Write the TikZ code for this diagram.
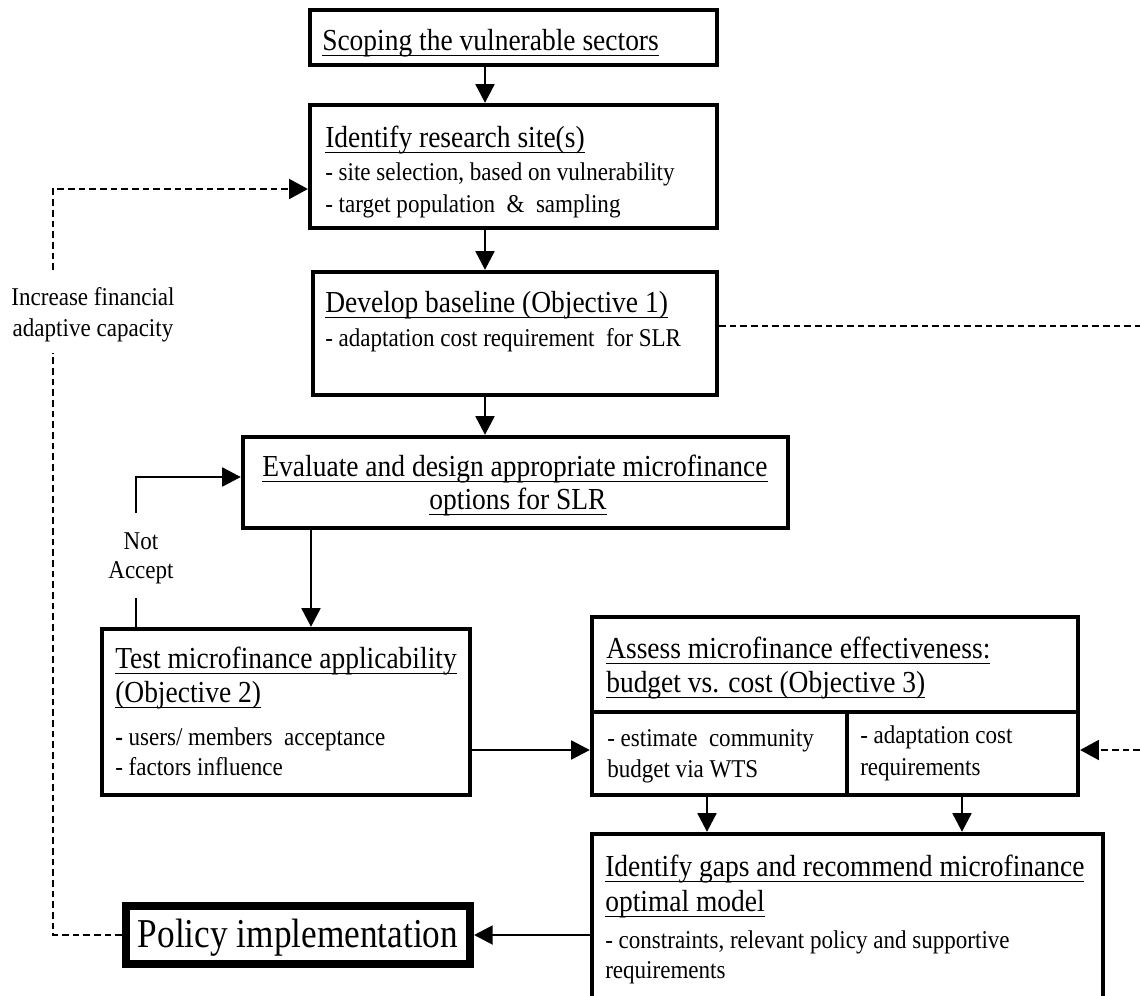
\documentclass[tikz,border=0pt]{standalone}
\usepackage{fontspec}
\setmainfont{Liberation Serif}[FakeStretch=0.9]
\newfontfamily\bigserif{Liberation Serif}[FakeStretch=0.86]
\usetikzlibrary{arrows.meta,fit}
% underline at a fixed distance below the baseline
\newcommand{\undl}[1]{\setbox0\hbox{#1}\rlap{\rule[-0.21em]{\wd0}{1.1pt}}\box0}

\begin{document}
\begin{tikzpicture}[x=0.75pt,y=-0.75pt,
  box/.style={draw, line width=3.2pt, inner sep=0pt},
  bigbox/.style={draw, line width=6pt, inner sep=0pt},
  hd/.style={font=\fontsize{22.9pt}{27pt}\selectfont, inner sep=0pt},
  sm/.style={font=\fontsize{19.2pt}{23pt}\selectfont, inner sep=0pt},
  ln/.style={line width=2.2pt},
  arr/.style={line width=2.2pt, -{Triangle[length=14pt,width=14pt]}},
  dsh/.style={line width=1.1pt, dash pattern=on 5pt off 3pt},
  dasharr/.style={dsh, -{Triangle[length=14pt,width=15pt]}}]

\useasboundingbox (0,0) rectangle (1140,996);
\clip (0,0) rectangle (1140,996);

% ---- boxes ----
\node[box, fit={(310,10) (717,65)}] (scope) {};
\node[box, fit={(310,105) (717,228)}] (ident) {};
\node[box, fit={(313,272) (717,395)}] (devel) {};
\node[box, fit={(243,437) (788,528)}] (eval) {};
\node[box, fit={(102,629) (470,795)}] (test) {};
\node[box, fit={(592,617) (1078,712)}] (assess) {};
\node[box, fit={(592,712) (847,795)}] (lowL) {};
\node[box, fit={(847,712) (1078,795)}] (lowR) {};
\node[box, fit={(592,834) (1103,1015)}] (gaps) {};
\node[bigbox, fit={(126,906) (470,964)}] (policy) {};

% ---- texts ----
\node[hd, anchor=base west] (tScope) at (322,50) {\undl{Scoping the vulnerable sectors}};

\node[hd, anchor=base west] (tIdent) at (325,147) {\undl{Identify research site(s)}};
\node[sm, anchor=base west] (tIdent1) at (325,180) {- site selection, based on vulnerability};
\node[sm, anchor=base west] (tIdent2) at (325,212) {- target population \ \& \ sampling};

\node[hd, anchor=base west] (tDevel) at (325,312) {\undl{Develop baseline (Objective 1)}};
\node[sm, anchor=base west] (tDevel1) at (325,346) {- adaptation cost requirement \ for SLR};

\node[hd, anchor=base] (tEval) at (515,476) {\undl{Evaluate and design appropriate microfinance}};
\node[hd, anchor=base] (tEval2) at (518,509) {\undl{options for SLR}};

\node[hd, anchor=base west] (tTest) at (115,668) {\undl{Test microfinance applicability}};
\node[hd, anchor=base west] (tTest2) at (115,702) {\undl{(Objective 2)}};
\node[sm, anchor=base west] (tTest3) at (115,745) {\textbf{-} users/ members \ acceptance};
\node[sm, anchor=base west] (tTest4) at (115,775) {- factors influence};

\node[hd, anchor=base west] (tAss) at (606,658) {\undl{Assess microfinance effectiveness:}};
\node[hd, anchor=base west] (tAss2) at (606,692) {\undl{budget vs. cost (Objective 3)}};
\node[sm, anchor=base west] (tLowL) at (607,746) {- estimate \ community};
\node[sm, anchor=base west] (tLowL2) at (607,777) {budget via WTS};
\node[sm, anchor=base west] (tLowR) at (860,743) {- adaptation cost};
\node[sm, anchor=base west] (tLowR2) at (860,775) {requirements};

\node[hd, anchor=base west] (tGaps) at (605,876) {\undl{Identify gaps and recommend microfinance}};
\node[hd, anchor=base west] (tGaps2) at (605,911) {\undl{optimal model}};
\node[sm, anchor=base west] (tGaps3) at (605,948) {- constraints, relevant policy and supportive};
\node[sm, anchor=base west] (tGaps4) at (605,978) {requirements};

\node[anchor=base, inner sep=0pt, font=\bigserif\fontsize{30.75pt}{34pt}\selectfont] (tPol) at (298,947) {Policy implementation};

\node[sm, anchor=base] (tInc) at (93,305) {Increase financial};
\node[sm, anchor=base] (tInc2) at (93,336) {adaptive capacity};

\node[sm, anchor=base] (tNot) at (141,549) {Not};
\node[sm, anchor=base] (tNot2) at (141,578) {Accept};

% ---- main flow ----
\coordinate (cA) at (485,0);
\draw[arr] (scope.south -| cA) -- (ident.north -| cA);
\draw[arr] (ident.south -| cA) -- (devel.north -| cA);
\draw[arr] (devel.south -| cA) -- (eval.north -| cA);

\coordinate (cB) at (311,0);
\draw[arr] (eval.south -| cB) -- (test.north -| cB);

% ---- "Not Accept" loop ----
\coordinate (naTop) at (136,513);
\coordinate (naBot) at (136,598);
\coordinate (loopY) at (0,477);
\draw[ln] (test.north -| naBot) -- (naBot);
\draw[arr] (naTop) |- (eval.west |- loopY);

% ---- test -> assess ----
\coordinate (ay) at (0,750);
\draw[arr] (test.east |- ay) -- (lowL.west |- ay);
\coordinate (rin) at (1140,750);
\draw[dasharr] (rin) -- (lowR.east |- rin);

% ---- assess -> gaps -> policy ----
\coordinate (cC) at (707,0);
\coordinate (cD) at (962,0);
\draw[arr] (lowL.south -| cC) -- (gaps.north -| cC);
\draw[arr] (lowR.south -| cD) -- (gaps.north -| cD);
\draw[arr] (gaps.west |- policy) -- (policy.east);

% ---- feedback loop ----
\coordinate (gLo) at (53,353);
\coordinate (gHi) at (53,270);
\coordinate (fy) at (0,189);
\draw[dsh] (policy.west) -| (gLo);
\draw[dasharr] (gHi) |- (ident.west |- fy);

% ---- baseline link to the right ----
\coordinate (dr) at (1140,326);
\draw[dsh] (devel.east |- dr) -- (dr);
\end{tikzpicture}
\end{document}
